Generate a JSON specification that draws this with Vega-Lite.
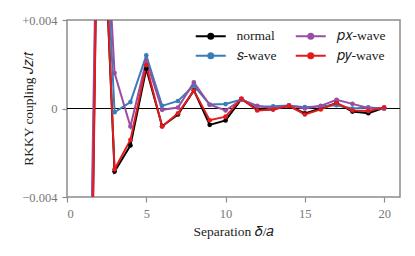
{
  "$schema": "https://vega.github.io/schema/vega-lite/v6.json",
  "width": 333,
  "height": 177,
  "autosize": "none",
  "padding": {"left": 67, "top": 20, "right": 15, "bottom": 59},
  "background": "white",
  "config": {
    "font": "Liberation Serif",
    "view": {"stroke": "#8c8c8c", "strokeWidth": 1.5},
    "axis": {"grid": false, "domain": false, "tickColor": "#8c8c8c", "tickWidth": 1.2, "tickSize": 5, "labelColor": "#777777", "labelFontSize": 12.5, "labelFont": "Liberation Serif", "titleFont": "Liberation Serif", "titleFontSize": 13.5, "titleFontWeight": "normal", "titleColor": "#222222", "labelPadding": 5}
  },
  "data": {"values": [
    {"d": 1, "J": -0.036, "series": "normal"},
    {"d": 2, "J": 0.014, "series": "normal"},
    {"d": 3, "J": -0.00285, "series": "normal"},
    {"d": 4, "J": -0.00167, "series": "normal"},
    {"d": 5, "J": 0.0018, "series": "normal"},
    {"d": 6, "J": -0.0008, "series": "normal"},
    {"d": 7, "J": -0.00027, "series": "normal"},
    {"d": 8, "J": 0.00082, "series": "normal"},
    {"d": 9, "J": -0.00074, "series": "normal"},
    {"d": 10, "J": -0.00054, "series": "normal"},
    {"d": 11, "J": 0.00042, "series": "normal"},
    {"d": 12, "J": -0.00005, "series": "normal"},
    {"d": 13, "J": -0.00003, "series": "normal"},
    {"d": 14, "J": 0.00012, "series": "normal"},
    {"d": 15, "J": -0.00022, "series": "normal"},
    {"d": 16, "J": 0.0, "series": "normal"},
    {"d": 17, "J": 0.00025, "series": "normal"},
    {"d": 18, "J": -0.00014, "series": "normal"},
    {"d": 19, "J": -0.00021, "series": "normal"},
    {"d": 20, "J": 0.00003, "series": "normal"},
    {"d": 1, "J": -0.033, "series": "s-wave"},
    {"d": 2, "J": 0.0145, "series": "s-wave"},
    {"d": 3, "J": -0.00017, "series": "s-wave"},
    {"d": 4, "J": 0.00029, "series": "s-wave"},
    {"d": 5, "J": 0.0024, "series": "s-wave"},
    {"d": 6, "J": 0.00012, "series": "s-wave"},
    {"d": 7, "J": 0.00034, "series": "s-wave"},
    {"d": 8, "J": 0.00104, "series": "s-wave"},
    {"d": 9, "J": 0.00018, "series": "s-wave"},
    {"d": 10, "J": 0.0002, "series": "s-wave"},
    {"d": 11, "J": 0.0004, "series": "s-wave"},
    {"d": 12, "J": 0.00009, "series": "s-wave"},
    {"d": 13, "J": 0.0001, "series": "s-wave"},
    {"d": 14, "J": 0.00014, "series": "s-wave"},
    {"d": 15, "J": 0.00006, "series": "s-wave"},
    {"d": 16, "J": 0.0001, "series": "s-wave"},
    {"d": 17, "J": 0.00015, "series": "s-wave"},
    {"d": 18, "J": 0.0, "series": "s-wave"},
    {"d": 19, "J": 0.00005, "series": "s-wave"},
    {"d": 20, "J": 0.0, "series": "s-wave"},
    {"d": 1, "J": -0.029, "series": "px-wave"},
    {"d": 2, "J": 0.0147, "series": "px-wave"},
    {"d": 3, "J": 0.0016, "series": "px-wave"},
    {"d": 4, "J": -0.00081, "series": "px-wave"},
    {"d": 5, "J": 0.00217, "series": "px-wave"},
    {"d": 6, "J": -0.00006, "series": "px-wave"},
    {"d": 7, "J": 0.00004, "series": "px-wave"},
    {"d": 8, "J": 0.00118, "series": "px-wave"},
    {"d": 9, "J": 0.00017, "series": "px-wave"},
    {"d": 10, "J": -0.00009, "series": "px-wave"},
    {"d": 11, "J": 0.0004, "series": "px-wave"},
    {"d": 12, "J": 0.00012, "series": "px-wave"},
    {"d": 13, "J": 0.0, "series": "px-wave"},
    {"d": 14, "J": 0.00014, "series": "px-wave"},
    {"d": 15, "J": 0.0, "series": "px-wave"},
    {"d": 16, "J": 0.00012, "series": "px-wave"},
    {"d": 17, "J": 0.00039, "series": "px-wave"},
    {"d": 18, "J": 0.00021, "series": "px-wave"},
    {"d": 19, "J": 0.00002, "series": "px-wave"},
    {"d": 20, "J": -0.00001, "series": "px-wave"},
    {"d": 1, "J": -0.038, "series": "py-wave"},
    {"d": 2, "J": 0.014, "series": "py-wave"},
    {"d": 3, "J": -0.00275, "series": "py-wave"},
    {"d": 4, "J": -0.00142, "series": "py-wave"},
    {"d": 5, "J": 0.00196, "series": "py-wave"},
    {"d": 6, "J": -0.00081, "series": "py-wave"},
    {"d": 7, "J": -0.00022, "series": "py-wave"},
    {"d": 8, "J": 0.00081, "series": "py-wave"},
    {"d": 9, "J": -0.00053, "series": "py-wave"},
    {"d": 10, "J": -0.00037, "series": "py-wave"},
    {"d": 11, "J": 0.00045, "series": "py-wave"},
    {"d": 12, "J": -0.00009, "series": "py-wave"},
    {"d": 13, "J": -0.00005, "series": "py-wave"},
    {"d": 14, "J": 0.00012, "series": "py-wave"},
    {"d": 15, "J": -0.00027, "series": "py-wave"},
    {"d": 16, "J": -0.00004, "series": "py-wave"},
    {"d": 17, "J": 0.00024, "series": "py-wave"},
    {"d": 18, "J": -0.00009, "series": "py-wave"},
    {"d": 19, "J": -0.00011, "series": "py-wave"},
    {"d": 20, "J": 0.00005, "series": "py-wave"}
  ]},
  "layer": [
    {
      "mark": {"type": "rule", "color": "black", "strokeWidth": 1},
      "encoding": {"y": {"datum": 0, "type": "quantitative"}}
    },
    {
      "mark": {"type": "line", "strokeWidth": 2, "clip": true, "point": {"filled": true, "size": 22, "opacity": 1}},
      "encoding": {
        "x": {"field": "d", "type": "quantitative", "scale": {"domain": [0, 21], "nice": false, "zero": false},
          "axis": {"values": [0, 5, 10, 15, 20], "title": "Separation 𝛿/𝑎", "titlePadding": 5}},
        "y": {"field": "J", "type": "quantitative", "scale": {"domain": [-0.004, 0.004], "nice": false, "zero": false},
          "axis": {"values": [-0.004, 0, 0.004], "labelExpr": "datum.value > 0 ? '+0.004' : (datum.value < 0 ? '\u22120.004' : '0')",
            "title": "RKKY coupling 𝐽𝑧/𝑡", "titleX": -39, "titleY": 88.5, "titleAngle": -90, "titleAlign": "center", "titleBaseline": "middle"}},
        "color": {"field": "series", "type": "nominal",
          "scale": {"domain": ["normal", "s-wave", "px-wave", "py-wave"], "range": ["#000000", "#377eb8", "#984ea3", "#e41a1c"]},
          "legend": {
            "orient": "none", "legendX": 137, "legendY": 9, "columns": 2, "title": null,
            "labelExpr": "datum.value == 'normal' ? 'normal' : (datum.value == 's-wave' ? '𝑠-wave' : (datum.value == 'px-wave' ? '𝑝𝑥-wave' : '𝑝𝑦-wave'))",
            "symbolType": "M-3,0H3M-0.5,0a0.5,0.5 0 1,0 1,0a0.5,0.5 0 1,0 -1,0",
            "symbolSize": 100, "symbolStrokeWidth": 2, "labelOffset": 19,
            "labelFontSize": 13.5, "labelColor": "#222222", "labelFont": "Liberation Serif",
            "rowPadding": 5, "columnPadding": 14, "padding": 0,
            "encode": {"symbols": {"update": {"fill": {"scale": "color", "field": "value"}, "fillOpacity": {"value": 1}}}}
          }}
      }
    }
  ]
}
